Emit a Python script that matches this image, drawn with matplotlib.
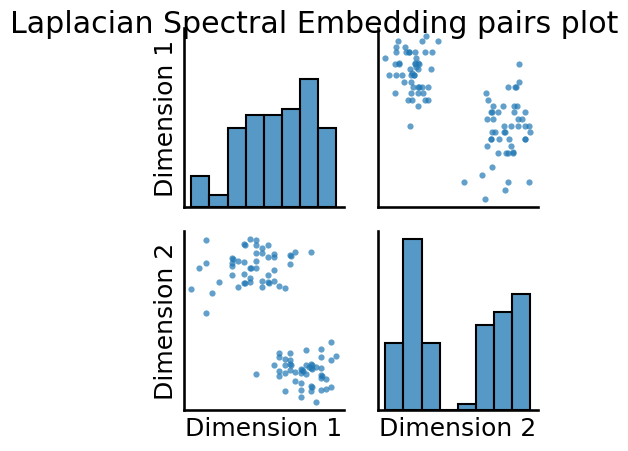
import matplotlib
matplotlib.use("Agg")
import matplotlib.pyplot as plt
import numpy as np

title = "Laplacian Spectral Embedding pairs plot"
dim_names = ["Dimension 1", "Dimension 2"]

dim1 = [0.101, 0.407, 0.448, 0.366, 0.368, 0.448, 0.531, 0.490, 0.448, 0.490,
        0.572, 0.572, 0.531, 0.683, 0.685, 0.717, 0.828, 0.283, 0.285, 0.324,
        0.366, 0.448, 0.283, 0.283, 0.407, 0.409, 0.448, 0.683, 0.103, 0.055,
        0.283, 0.366, 0.531, 0.572, 0.407, 0.407, 0.366, 0.368, 0.193, 0.324,
        0.490, 0.531, 0.533, 0.572, 0.490, 0.607, 0.648, 0.000, 0.145, 0.101,
        0.966, 0.607, 0.683, 0.793, 0.897, 0.607, 0.897, 1.000, 0.648, 0.683,
        0.966, 0.572, 0.683, 0.685, 0.648, 0.793, 0.828, 0.830, 0.862, 0.897,
        0.759, 0.761, 0.828, 0.830, 0.607, 0.683, 0.717, 0.759, 0.793, 0.648,
        0.448, 0.607, 0.897, 0.899, 0.897, 0.931, 0.717, 0.809, 0.772, 0.759,
        0.828, 0.830, 0.966, 0.931, 0.897, 0.828, 0.759, 0.648, 0.759, 0.862]

dim2 = [0.994, 1.000, 0.994, 0.967, 0.963, 0.961, 0.963, 0.945, 0.913, 0.915,
        0.909, 0.888, 0.890, 0.902, 0.894, 0.921, 0.921, 0.880, 0.878, 0.866,
        0.854, 0.864, 0.848, 0.831, 0.823, 0.819, 0.821, 0.846, 0.848, 0.823,
        0.780, 0.785, 0.780, 0.809, 0.760, 0.736, 0.730, 0.726, 0.736, 0.705,
        0.742, 0.734, 0.730, 0.742, 0.705, 0.711, 0.695, 0.689, 0.669, 0.543,
        0.364, 0.297, 0.297, 0.315, 0.321, 0.272, 0.272, 0.280, 0.262, 0.254,
        0.254, 0.224, 0.230, 0.226, 0.224, 0.224, 0.230, 0.226, 0.211, 0.205,
        0.201, 0.197, 0.207, 0.203, 0.187, 0.193, 0.181, 0.175, 0.169, 0.175,
        0.169, 0.157, 0.165, 0.161, 0.144, 0.138, 0.130, 0.211, 0.187, 0.114,
        0.098, 0.093, 0.089, 0.077, 0.071, 0.065, 0.071, 0.065, 0.028, 0.000]

data = [np.array(dim1), np.array(dim2)]

W, H = 628, 452
fig = plt.figure(figsize=(W / 100, H / 100), dpi=100)

col_left = [184, 378]
col_w = 159.5
row_top = [28.5, 231.5]
row_h = 179.5

base = "#1f77b4"
spine_lw = 1.875

axes = [[None, None], [None, None]]
for r in range(2):
    for c in range(2):
        rect = [col_left[c] / W, (H - row_top[r] - row_h) / H, col_w / W, row_h / H]
        axes[r][c] = fig.add_axes(rect)

hist_axes = [axes[0][0], axes[1][1]]
for i in range(2):
    ax = axes[i][i]
    ax.hist(data[i], bins=8, facecolor=matplotlib.colors.to_rgba(base, 0.75),
            edgecolor="black", linewidth=1.5)
# share y-limits of diagonal histograms
ymax = max(a.get_ylim()[1] for a in hist_axes)
for a in hist_axes:
    a.set_ylim(0, ymax)

for r in range(2):
    for c in range(2):
        if r == c:
            continue
        ax = axes[r][c]
        ax.scatter(data[c], data[r], s=20, alpha=0.7, color=base, linewidth=0)

# align x of histograms with scatter columns
for c in range(2):
    lo = min(axes[0][c].get_xlim()[0], axes[1][c].get_xlim()[0])
    hi = max(axes[0][c].get_xlim()[1], axes[1][c].get_xlim()[1])
    for r in range(2):
        axes[r][c].set_xlim(lo, hi)

for r in range(2):
    for c in range(2):
        ax = axes[r][c]
        ax.set_xticks([])
        ax.set_yticks([])
        for s in ["top", "right"]:
            ax.spines[s].set_visible(False)
        for s in ["left", "bottom"]:
            ax.spines[s].set_linewidth(spine_lw)

axes[0][0].set_ylabel(dim_names[0], fontsize=18)
axes[1][0].set_ylabel(dim_names[1], fontsize=18)
axes[1][0].set_xlabel(dim_names[0], fontsize=18)
axes[1][1].set_xlabel(dim_names[1], fontsize=18)

fig.suptitle(title, fontsize=21.6, x=0.5, y=1 - 33 / H, va="baseline")

fig.savefig("out.png", dpi=100)
